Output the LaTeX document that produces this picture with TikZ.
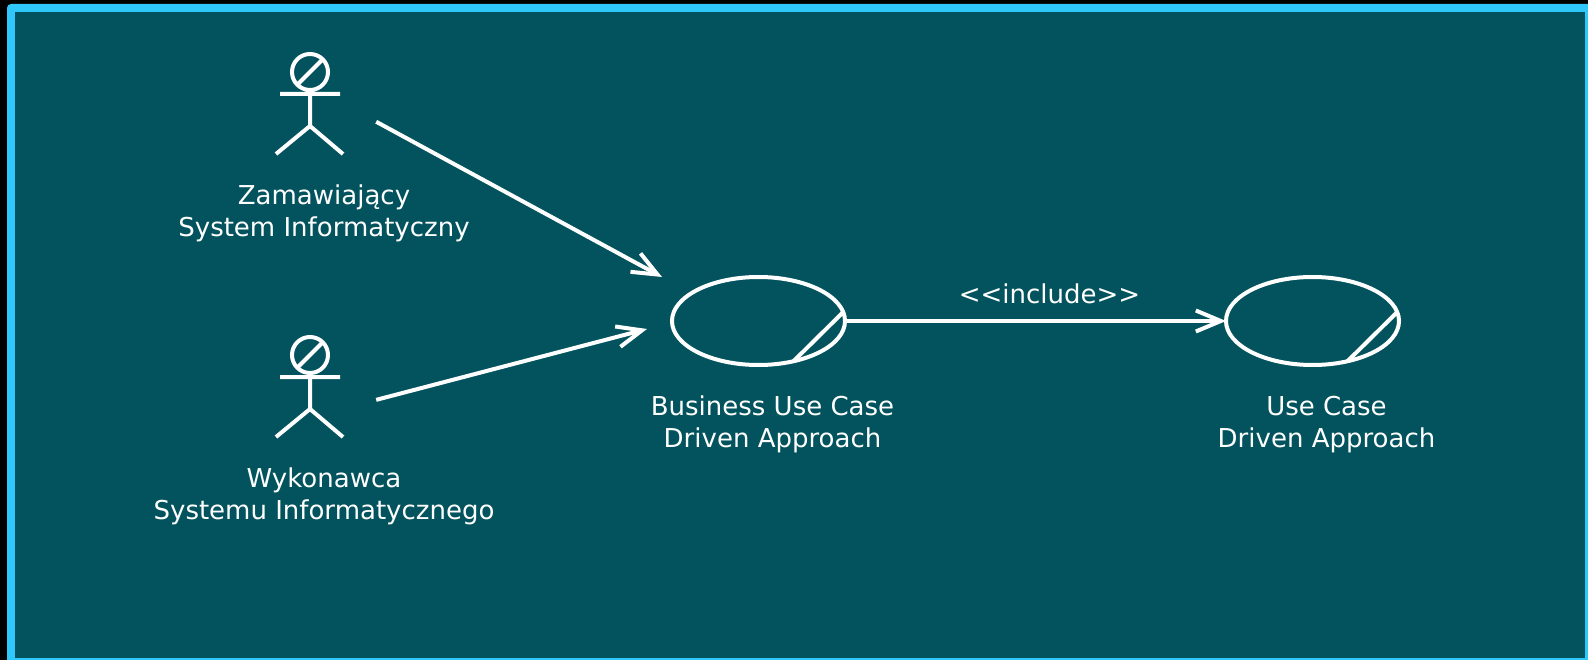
\documentclass[tikz,border=0pt]{standalone}
\usepackage{fontspec}
\usetikzlibrary{positioning,shapes.geometric,arrows.meta}
\newfontfamily\umlfont{DejaVu Sans}
\definecolor{bgteal}{HTML}{02535E}
\definecolor{frameblue}{HTML}{30C8FA}

\tikzstyle{actor} = [rectangle, minimum width=132pt, minimum height=100pt, inner sep=0]
\tikzstyle{usecase} = [ellipse, draw=white, line width=4pt, minimum width=173pt, minimum height=88pt, outer sep=0]
\tikzstyle{caption} = [text=white, align=center, inner sep=0, outer sep=0, xshift=14pt, font=\umlfont\fontsize{26}{32}\selectfont]
\tikzstyle{stick} = [draw=white, line width=4pt]
\tikzstyle{arrow} = [white, line width=4pt, -{Straight Barb[length=25pt,width=21pt]}]

\begin{document}
\begin{tikzpicture}[x=1pt,y=-1pt]
\useasboundingbox (0,0) rectangle (1588,660);
\fill[black] (0,0) rectangle (1588,660);
\fill[frameblue, rounded corners=4pt] (7,4) rectangle (1600,672);
\fill[bgteal] (15,12) rectangle (1585,658);

% actors
\node (zam) [actor] at (310,104) {};
\node (wyk) [actor] at (310,387) {};
\foreach \a in {zam,wyk} {
  \draw[stick,shift={(\a)}] (0,-32) circle (18pt) (-12.7,-19.3) -- (12.7,-44.7)
    (0,-14) -- (0,22) (-30,-10) -- (30,-10) (-34,50) -- (0,22) -- (33,50);
}
\node (zamText) [caption, below=31pt of zam] {Zamawiający\\System Informatyczny};
\node (wykText) [caption, below=31pt of wyk] {Wykonawca\\Systemu Informatycznego};

% use cases
\node (buc) [usecase] at (758.5,321) {};
\node (uc) [usecase] at (1312.5,321) {};
\draw[stick] (buc.6) -- (buc.-49);
\draw[stick] (uc.6) -- (uc.-49);
\node (bucText) [caption, below=31pt of buc] {Business Use Case\\Driven Approach};
\node (ucText) [caption, below=31pt of uc] {Use Case\\Driven Approach};

% associations
\coordinate (bucA) at (662,277);
\coordinate (bucB) at (647,329);
\draw[arrow] (zam.-15) -- (bucA);
\draw[arrow] (wyk.-11) -- (bucB);
\draw[arrow] (buc.east) -- node[caption, above=17pt] {<<include>>} (uc.west);
\end{tikzpicture}
\end{document}
